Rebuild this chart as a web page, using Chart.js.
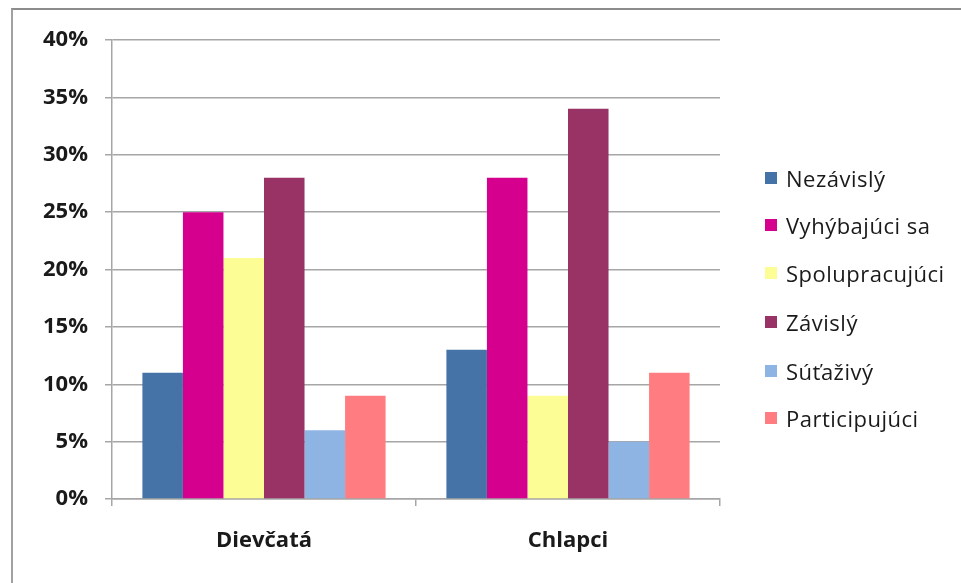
<!DOCTYPE html>
<html>
<head>
<meta charset="utf-8">
<script src="https://cdn.jsdelivr.net/npm/chart.js@4.4.0/dist/chart.umd.min.js"></script>
<style>
  html, body { margin: 0; padding: 0; background: #fff; }
  #wrap { position: relative; width: 961px; height: 583px; overflow: hidden; }
  #frame {
    position: absolute; left: 11px; top: 8px; right: -4px; bottom: -4px;
    border-top: 2px solid #8c8c8c; border-left: 2px solid #a0a0a0;
  }
  canvas { position: absolute; left: 0; top: 0; }
  #legend { position: absolute; left: 765px; top: 0; font-family: "Open Sans", Lato, sans-serif; font-size: 22px; letter-spacing: 0.5px; color: #1a1a1a; }
  .item { position: absolute; left: 0; white-space: nowrap; display: flex; align-items: center; height: 28px; }
  .sw { width: 12px; height: 12px; margin-right: 9px; }
</style>
</head>
<body>
<div id="wrap">
  <div id="frame"></div>
  <canvas id="c" width="961" height="583"></canvas>
  <div id="legend"></div>
</div>
<script>
const categories = ['Dievčatá', 'Chlapci'];
const seriesNames = ['Nezávislý', 'Vyhýbajúci sa', 'Spolupracujúci', 'Závislý', 'Súťaživý', 'Participujúci'];
const nezavisly      = [11, 13];
const vyhybajuci     = [25, 28];
const spolupracujuci = [21, 9];
const zavisly        = [28, 34];
const sutazivy       = [6, 5];
const participujuci  = [9, 11];
const yTicks = [0, 5, 10, 15, 20, 25, 30, 35, 40];

const seriesValues = [nezavisly, vyhybajuci, spolupracujuci, zavisly, sutazivy, participujuci];
const colors = ['#4572A7', '#D6008F', '#FDFD96', '#993366', '#8EB4E3', '#FF7C80'];

const fontFamily = '"Open Sans", Lato, sans-serif';

new Chart(document.getElementById('c'), {
  type: 'bar',
  data: {
    labels: categories,
    datasets: seriesNames.map((name, i) => ({
      label: name,
      data: seriesValues[i],
      backgroundColor: colors[i],
      borderWidth: 0,
      categoryPercentage: 0.8,
      barPercentage: 1.0
    }))
  },
  options: {
    responsive: false,
    animation: false,
    layout: { padding: { left: 2, right: 241, top: 40, bottom: 0 } },
    plugins: { legend: { display: false }, tooltip: { enabled: false } },
    scales: {
      x: {
        afterFit: s => { s.height = 84; },
        grid: { drawOnChartArea: false, drawTicks: true, tickLength: 7, color: '#a6a6a6', lineWidth: 1.5 },
        border: { color: '#a6a6a6', width: 1.5 },
        ticks: { padding: 22, color: '#1a1a1a', font: { family: fontFamily, size: 22, weight: 'bold' } }
      },
      y: {
        min: 0, max: 40,
        afterFit: s => { s.width = 110; },
        afterBuildTicks: s => { s.ticks = yTicks.map(v => ({ value: v })); },
        grid: { color: '#a6a6a6', lineWidth: 1.5, tickLength: 7 },
        border: { color: '#a6a6a6', width: 1.5 },
        ticks: {
          padding: 17, color: '#1a1a1a',
          font: { family: fontFamily, size: 22, weight: 'bold' },
          callback: v => v + '%'
        }
      }
    }
  }
});

// legend column beside the plot
const legendTops = [178, 225, 273, 322, 371, 418];
const legend = document.getElementById('legend');
seriesNames.forEach((name, i) => {
  const it = document.createElement('div');
  it.className = 'item';
  it.style.top = (legendTops[i] - 14) + 'px';
  const sw = document.createElement('span');
  sw.className = 'sw';
  sw.style.background = colors[i];
  const tx = document.createElement('span');
  tx.textContent = name;
  it.appendChild(sw);
  it.appendChild(tx);
  legend.appendChild(it);
});
</script>
</body>
</html>
